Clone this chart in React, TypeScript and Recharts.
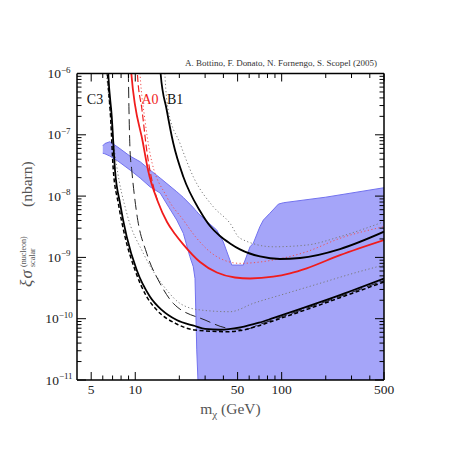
import React from 'react';
import { ComposedChart, Area, Line, XAxis, YAxis, ReferenceDot } from 'recharts';

const FONT = '"Liberation Serif", "DejaVu Serif", serif';

// axis ticks
const xTicks = [5, 6, 7, 8, 9, 10, 20, 30, 40, 50, 60, 70, 80, 90, 100, 200, 300, 400, 500];
const xLabelled = [5, 10, 50, 100, 500];
const yDecades = [-11, -10, -9, -8, -7];
const yMultipliers = [1, 2, 3, 4, 5, 6, 7, 8, 9];
const yTicks = [
  ...yDecades.flatMap((d) => yMultipliers.map((m) => Number((m * Math.pow(10, d)).toPrecision(3)))),
  1e-6,
];

// shaded allowed region (band + open region)
const bandX = [6.0, 6.2, 6.7, 7.6, 9.2, 10.8, 12.6, 14.8, 17.0, 19.2, 21.3, 23.6, 24.9, 25.6, 26.3, 26.8, 27.2, 30.7, 36.0, 39.9, 45.6, 54.7, 60.8, 64.0, 71.0, 75.0, 83.0, 95.0, 103.0, 200, 500];
const bandHi = [6.6e-8, 7.2e-8, 7.7e-8, 6.3e-8, 4.5e-8, 3.64e-8, 2.67e-8, 1.97e-8, 1.5e-8, 1.18e-8, 9.5e-9, 7.4e-9, 6.5e-9, 6.0e-9, 5.6e-9, 5.3e-9, 5.1e-9, 3.9e-9, 2.8e-9, 1.8e-9, 7.5e-10, 7.5e-10, 1.49e-9, 1.7e-9, 3.17e-9, 4.07e-9, 5.24e-9, 7.4e-9, 7.8e-9, 9.6e-9, 1.37e-8];
const bandLo = [5.0e-8, 4.9e-8, 4.5e-8, 3.74e-8, 2.67e-8, 1.97e-8, 1.42e-8, 1.12e-8, 6.5e-9, 4.07e-9, 2.47e-9, 1.03e-9, 7.05e-10, 4.5e-10, 3.1e-11, 1e-11, 1e-11, 1e-11, 1e-11, 1e-11, 1e-11, 1e-11, 1e-11, 1e-11, 1e-11, 1e-11, 1e-11, 1e-11, 1e-11, 1e-11, 1e-11];

// lower group (C3)
const c3SolidX = [6.46, 6.54, 6.91, 7.27, 7.87, 8.74, 10.23, 12.61, 15.16, 19.19, 25.6, 30, 38, 52, 70, 87.3, 149, 250, 500];
const c3SolidY = [2e-6, 1e-6, 1.97e-7, 2.67e-8, 7.63e-9, 2.18e-9, 6.23e-10, 2.29e-10, 1.39e-10, 9.5e-11, 7.6e-11, 6.8e-11, 6.6e-11, 7.2e-11, 8.6e-11, 1.02e-10, 1.57e-10, 2.42e-10, 4.5e-10];
const c3DashX = [6.36, 6.46, 6.78, 7.08, 7.66, 8.51, 9.96, 11.97, 14.01, 19.19, 25.6, 43.2, 52, 70, 87.3, 149, 250, 500];
const c3DashY = [2e-6, 1e-6, 1.97e-7, 2.67e-8, 7.63e-9, 2.18e-9, 6.23e-10, 2.29e-10, 1.39e-10, 8.2e-11, 6.54e-11, 6.14e-11, 6.4e-11, 7.7e-11, 9.2e-11, 1.42e-10, 2.2e-10, 3.97e-10];
const longDashX = [8.85, 8.97, 9.06, 9.21, 9.46, 10.23, 11.97, 14.76, 18.19, 29.95, 43.2, 56.2, 70, 87.3, 149, 250, 500];
const longDashY = [2e-6, 9.45e-7, 2.54e-7, 5.65e-8, 2.67e-8, 5.24e-9, 1.17e-9, 3.78e-10, 1.78e-10, 9.52e-11, 6.97e-11, 6.7e-11, 8.0e-11, 9.6e-11, 1.49e-10, 2.3e-10, 4.2e-10];
const lowDotX = [6.21, 6.38, 6.83, 7.45, 8.74, 11.35, 16.4, 20.2, 27.7, 44.4, 64.0, 108.3, 182.8, 308.6, 500];
const lowDotY = [1.66e-6, 8.87e-7, 1.74e-7, 3.22e-8, 5.3e-9, 1.17e-9, 2.94e-10, 1.78e-10, 1.39e-10, 1.3e-10, 1.78e-10, 2.6e-10, 3.78e-10, 5.5e-10, 7.52e-10];

// A0 (red)
const a0SolidX = [9.28, 9.4, 11.29, 12.22, 14.3, 16.48, 18.68, 21.19, 27.7, 36.1, 48.0, 60.8, 87.5, 114.0, 148.3, 250.3, 500];
const a0SolidY = [2e-6, 1e-6, 7.35e-8, 2.67e-8, 8.01e-9, 3.78e-9, 2.41e-9, 1.65e-9, 8.41e-10, 5.67e-10, 4.7e-10, 4.53e-10, 4.84e-10, 5.5e-10, 6.64e-10, 1.09e-9, 1.92e-9];
const a0DashX = [10.2, 10.35, 11.12, 11.97, 14.4];
const a0DashY = [2e-6, 9.56e-7, 2.54e-7, 5.65e-8, 7.6e-9];
const a0DotX = [10.6, 10.78, 11.65, 12.61, 16.4, 21.29, 26.3, 36.0, 51.9, 87.7, 148.3, 250.3, 500];
const a0DotY = [2e-6, 1e-6, 1.74e-7, 4.99e-8, 9.78e-9, 4.07e-9, 2.05e-9, 1.03e-9, 8.0e-10, 9.07e-10, 1.24e-9, 2.05e-9, 3.17e-9];

// B1
const b1SolidX = [14.64, 14.9, 16.4, 18.19, 21.29, 27.7, 32.4, 37.9, 44.4, 51.9, 71.1, 97.4, 133.5, 250.3, 500];
const b1SolidY = [2e-6, 1e-6, 2.54e-7, 7.27e-8, 2.07e-8, 5.71e-9, 3.25e-9, 2.23e-9, 1.69e-9, 1.35e-9, 1.035e-9, 9.42e-10, 9.78e-10, 1.37e-9, 2.63e-9];
const b1DotX = [15.72, 15.97, 16.8, 20.2, 24.9, 34.1, 44.4, 51.9, 87.7, 148.3, 250.3, 500];
const b1DotY = [2e-6, 8.87e-7, 2.54e-7, 7.27e-8, 2.07e-8, 6.71e-9, 3.6e-9, 2.05e-9, 1.49e-9, 1.59e-9, 2.18e-9, 3.82e-9];

const toPts = (xs: number[], ys: number[]) => xs.map((x, i) => ({ x, y: ys[i] }));
const bandData = bandX.map((x, i) => ({ x, range: [bandLo[i], bandHi[i]] }));

const isDecade = (v: number) => Math.abs(Math.log10(v) - Math.round(Math.log10(v))) < 1e-6;

const BottomTick = (props: any) => {
  const { x, y, payload } = props;
  const big = xLabelled.includes(payload.value);
  return (
    <g>
      <line x1={x} x2={x} y1={y} y2={y - (big ? 8 : 4.5)} stroke="#000" strokeWidth={1} />
      {big && (
        <text x={x} y={y + 14} textAnchor="middle" fontSize={13.5} fontFamily={FONT} fill="#222">
          {payload.value}
        </text>
      )}
    </g>
  );
};

const TopTick = (props: any) => {
  const { x, y, payload } = props;
  const big = xLabelled.includes(payload.value);
  return <line x1={x} x2={x} y1={y} y2={y + (big ? 8 : 4.5)} stroke="#000" strokeWidth={1} />;
};

const LeftTick = (props: any) => {
  const { x, y, payload } = props;
  const big = isDecade(payload.value);
  const exp = Math.round(Math.log10(payload.value));
  return (
    <g>
      <line x1={x} x2={x + (big ? 9 : 4.5)} y1={y} y2={y} stroke="#000" strokeWidth={1} />
      {big && (
        <text x={x - 18} y={y + 4.5} textAnchor="middle" fontSize={13.5} fontFamily={FONT} fill="#222">
          10
          <tspan dy={-5.5} fontSize={9}>{'\u2212' + Math.abs(exp)}</tspan>
        </text>
      )}
    </g>
  );
};

const RightTick = (props: any) => {
  const { x, y, payload } = props;
  const big = isDecade(payload.value);
  return <line x1={x} x2={x - (big ? 9 : 4.5)} y1={y} y2={y} stroke="#000" strokeWidth={1} />;
};

const XTitle = (props: any) => {
  const { viewBox } = props;
  const cx = viewBox.x + viewBox.width / 2;
  return (
    <text x={cx} y={viewBox.y + 33.5} textAnchor="middle" fontSize={15.5} fontFamily={FONT} fill="#555">
      m
      <tspan dy={4} fontSize={11}>χ</tspan>
      <tspan dy={-4}> (GeV)</tspan>
    </text>
  );
};

const YTitle = () => (
  <g transform="translate(31.5, 287) rotate(-90)" fontFamily={FONT} fill="#555">
    <text x={0} y={0} fontSize={17} fontStyle="italic">ξ</text>
    <text x={8.5} y={0} fontSize={17} fontStyle="italic">σ</text>
    <text x={20} y={-6} fontSize={8}>(nucleon)</text>
    <text x={20} y={3.5} fontSize={8}>scalar</text>
    <text x={80} y={0} fontSize={15.5}>(nbarn)</text>
  </g>
);

const Header = (props: any) => {
  const { viewBox } = props;
  return (
    <text x={185} y={viewBox.y + viewBox.height - 7.5} fontSize={8} fontFamily={FONT} fill="#333" textLength={192} lengthAdjust="spacingAndGlyphs">
      A. Bottino, F. Donato, N. Fornengo, S. Scopel (2005)
    </text>
  );
};

const lineProps = { type: 'monotone' as const, dataKey: 'y', dot: false, activeDot: false, isAnimationActive: false };

export default function App() {
  return (
    <div style={{ position: 'fixed', left: 0, top: 0, width: 457, height: 457, background: '#fff' }}>
      <ComposedChart width={457} height={457} margin={{ top: 72.5, right: 72, bottom: 47, left: 17 }}>
        <XAxis
          dataKey="x"
          type="number"
          scale="log"
          domain={[4, 500]}
          allowDataOverflow
          ticks={xTicks}
          interval={0}
          tick={<BottomTick />}
          tickLine={false}
          tickSize={0}
          tickMargin={0}
          height={30}
          axisLine={{ stroke: '#000', strokeWidth: 1.5 }}
          label={<XTitle />}
        />
        <XAxis
          xAxisId="top"
          orientation="top"
          dataKey="x"
          type="number"
          scale="log"
          domain={[4, 500]}
          allowDataOverflow
          ticks={xTicks}
          interval={0}
          tick={<TopTick />}
          tickLine={false}
          tickSize={0}
          tickMargin={0}
          height={1}
          axisLine={{ stroke: '#000', strokeWidth: 1.5 }}
          label={<Header />}
        />
        <YAxis
          type="number"
          scale="log"
          domain={[1e-11, 1e-6]}
          allowDataOverflow
          ticks={yTicks}
          interval={0}
          tick={<LeftTick />}
          tickLine={false}
          tickSize={0}
          tickMargin={0}
          width={60}
          axisLine={{ stroke: '#000', strokeWidth: 1.5 }}
          label={<YTitle />}
        />
        <YAxis
          yAxisId="right"
          orientation="right"
          type="number"
          scale="log"
          domain={[1e-11, 1e-6]}
          allowDataOverflow
          ticks={yTicks}
          interval={0}
          tick={<RightTick />}
          tickLine={false}
          tickSize={0}
          tickMargin={0}
          width={1}
          axisLine={{ stroke: '#000', strokeWidth: 1.5 }}
        />

        <Area
          data={bandData}
          dataKey="range"
          type="linear"
          stroke="#7272ee"
          strokeWidth={1}
          fill="#a5a5f9"
          fillOpacity={1}
          isAnimationActive={false}
          dot={false}
          activeDot={false}
        />

        {/* invisible copy bound to the mirrored axes so they get drawn */}
        <Line {...lineProps} data={toPts(lowDotX, lowDotY)} xAxisId="top" yAxisId="right" stroke="none" legendType="none" />

        <Line {...lineProps} data={toPts(lowDotX, lowDotY)} stroke="#7a7a7a" strokeWidth={1} strokeDasharray="1.2 2.4" />
        <Line {...lineProps} data={toPts(b1DotX, b1DotY)} stroke="#7a7a7a" strokeWidth={1} strokeDasharray="1.2 2.4" />
        <Line {...lineProps} data={toPts(a0DotX, a0DotY)} stroke="#f05050" strokeWidth={1} strokeDasharray="1.2 2.4" />
        <Line {...lineProps} data={toPts(longDashX, longDashY)} stroke="#222" strokeWidth={1} strokeDasharray="11 5" />
        <Line {...lineProps} data={toPts(c3DashX, c3DashY)} stroke="#000" strokeWidth={1.5} strokeDasharray="4 2.5" />
        <Line {...lineProps} data={toPts(a0DashX, a0DashY)} stroke="#f02020" strokeWidth={1.2} strokeDasharray="7 3" />
        <Line {...lineProps} data={toPts(c3SolidX, c3SolidY)} stroke="#000" strokeWidth={1.8} />
        <Line {...lineProps} data={toPts(b1SolidX, b1SolidY)} stroke="#000" strokeWidth={1.8} />
        <Line {...lineProps} data={toPts(a0SolidX, a0SolidY)} stroke="#f01c1c" strokeWidth={1.8} />

        <ReferenceDot x={5.31} y={3.84e-7} r={0} ifOverflow="visible" label={{ value: 'C3', position: 'center', fill: '#111', fontSize: 14, fontFamily: FONT }} />
        <ReferenceDot x={12.6} y={3.84e-7} r={0} ifOverflow="visible" label={{ value: 'A0', position: 'center', fill: '#f01c1c', fontSize: 14, fontFamily: FONT }} />
        <ReferenceDot x={18.7} y={3.84e-7} r={0} ifOverflow="visible" label={{ value: 'B1', position: 'center', fill: '#111', fontSize: 14, fontFamily: FONT }} />
      </ComposedChart>
    </div>
  );
}
